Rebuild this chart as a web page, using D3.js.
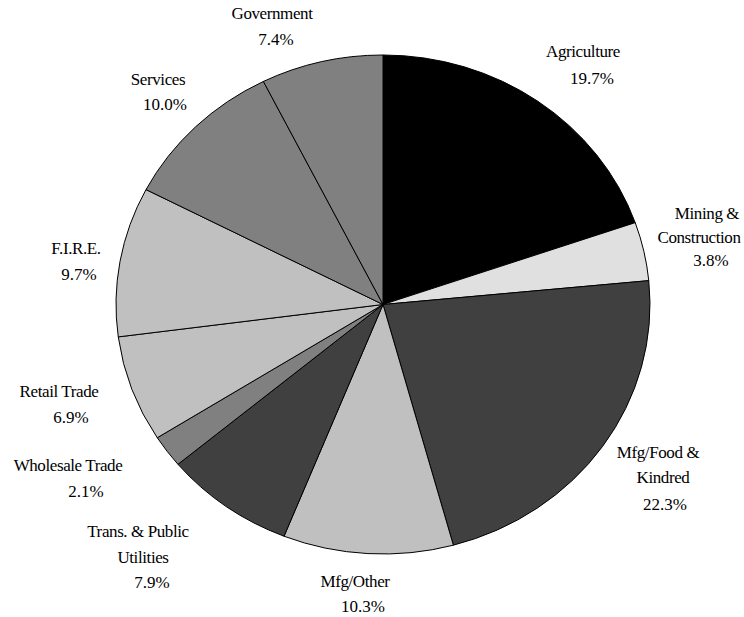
<!DOCTYPE html>
<html>
<head>
<meta charset="utf-8">
<script src="https://cdn.jsdelivr.net/npm/d3@7"></script>
<style>
  html, body { margin: 0; padding: 0; background: #fff; }
  svg { display: block; }
</style>
</head>
<body>
<svg id="chart" width="744" height="617"></svg>
<script>
// ---- data ----
const categories = ["Agriculture", "Mining & Construction", "Mfg/Food & Kindred", "Mfg/Other",
  "Trans. & Public Utilities", "Wholesale Trade", "Retail Trade", "F.I.R.E.", "Services", "Government"];
const shares = [19.7, 3.8, 22.3, 10.3, 7.9, 2.1, 6.9, 9.7, 10.0, 7.4];
const labelLines = [["Agriculture"], ["Mining &", "Construction"], ["Mfg/Food &", "Kindred"], ["Mfg/Other"],
  ["Trans. & Public", "Utilities"], ["Wholesale Trade"], ["Retail Trade"], ["F.I.R.E."], ["Services"], ["Government"]];

// ---- styles / layout ----
const fills = ["#000000", "#e0e0e0", "#404040", "#c0c0c0", "#404040", "#808080", "#c0c0c0", "#c0c0c0", "#808080", "#808080"];
// per-line label anchors (center x, baseline y)
const labelLayout = [
  [[583, 57], [592, 84]],
  [[707, 219], [699, 243], [711, 266]],
  [[658, 458], [663, 483], [665, 510]],
  [[355, 587], [363, 612]],
  [[138, 537], [143, 563], [152, 588]],
  [[68, 471], [86, 497]],
  [[59, 397], [71, 423]],
  [[76, 254], [79, 280]],
  [[158, 85], [165, 110]],
  [[272, 19], [276, 45]]
];
const FONT = "'Liberation Serif', 'Times New Roman', Tinos, 'DejaVu Serif', serif";

const cx = 383, cy = 304.5, rx = 267, ry = 249.5;
const svg = d3.select("#chart");
const color = d3.scaleOrdinal().domain(categories).range(fills);

const data = categories.map((c, i) => ({ cat: c, value: shares[i], i }));
const pie = d3.pie().value(d => d.value).sort(null).startAngle(0).endAngle(2 * Math.PI);
const arc = d3.arc().innerRadius(0).outerRadius(rx);

const g = svg.append("g").attr("transform", `translate(${cx},${cy}) scale(1,${ry / rx})`);
g.selectAll("path")
  .data(pie(data))
  .join("path")
  .attr("d", arc)
  .attr("fill", d => color(d.data.cat))
  .attr("stroke", "#000")
  .attr("stroke-width", 1)
  .attr("vector-effect", "non-scaling-stroke");

const fmt = d3.format(".1f");
const labels = svg.append("g");
data.forEach((d, i) => {
  const lines = labelLines[i].concat([fmt(d.value) + "%"]);
  lines.forEach((t, j) => {
    const pos = labelLayout[i][j];
    labels.append("text")
      .attr("x", pos[0])
      .attr("y", pos[1])
      .attr("text-anchor", "middle")
      .attr("font-family", FONT)
      .attr("font-size", 17)
      .attr("letter-spacing", j < lines.length - 1 ? -0.4 : 0)
      .style("font-family", FONT)
      .style("font-size", "17px")
      .attr("fill", "#000")
      .text(t);
  });
});
</script>
</body>
</html>
